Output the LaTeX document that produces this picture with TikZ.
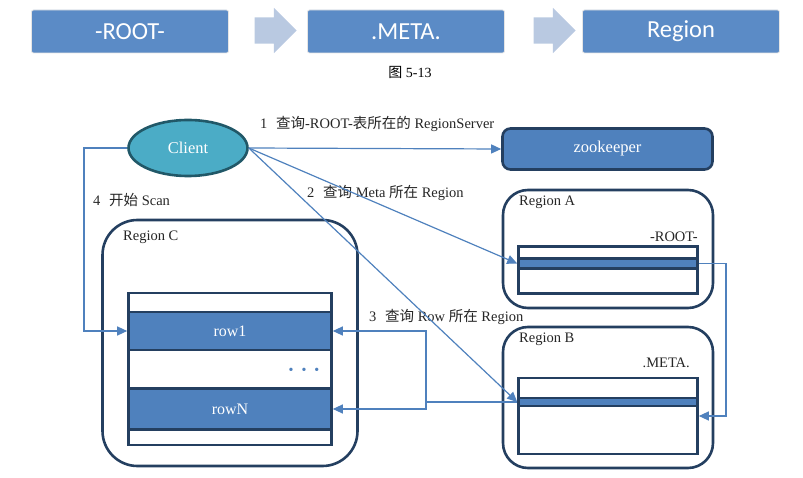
\documentclass[tikz,border=0pt]{standalone}
\usepackage{fontspec}
\setmainfont{Liberation Serif}
\newfontfamily\cjk{Noto Sans CJK SC}
\newfontfamily\calibri{Carlito}
\usetikzlibrary{shapes.geometric,shapes.arrows,arrows.meta}
\definecolor{topblue}{HTML}{5B8BC6}
\definecolor{chevblue}{HTML}{B9C9E1}
\definecolor{midblue}{HTML}{4F81BD}
\definecolor{navy}{HTML}{243F60}
\definecolor{clientfill}{HTML}{4BACC6}
\definecolor{clientedge}{HTML}{215868}
\begin{document}
\begin{tikzpicture}[x=1pt, y=-1pt,
        topbox/.style={rectangle, rounded corners=2, draw=gray!20, line width=0.8, fill=topblue, text=white, font=\calibri\fontsize{24.5}{28}\selectfont, minimum width=197, minimum height=43},
        chevron/.style={single arrow, fill=chevblue, inner xsep=0, inner ysep=13, minimum height=42, single arrow head extend=9.5},
        regionbox/.style={rectangle, draw=navy, line width=2.6, fill=white},
        tablebox/.style={rectangle, draw=navy, line width=2.6, fill=white, inner sep=0},
        band/.style={rectangle, draw=navy, line width=2.6, fill=midblue, inner sep=0, text=white, font=\fontsize{16}{18}\selectfont},
        link/.style={draw=midblue, line width=1.2, -{Triangle[length=10,width=9]}},
        note/.style={anchor=west, inner sep=0, text=black!85, font=\fontsize{14.5}{16}\selectfont}
    ]
        \useasboundingbox (0,0) rectangle (803,478);

        % Top row
        \node (root) [topbox] at (130,31.5) {-ROOT-};
        \node (chev1) [chevron] at (269,30.5) {};
        \node (meta) [topbox] at (406,31.5) {.META.};
        \node (chev2) [chevron] at (548,30.5) {};
        \node (region) [topbox] at (681,31.5) {Region};
        \node (caption) [font=\fontsize{14}{16}\selectfont] at (410,72) {{\cjk 图} 5-13};

        % Nodes
        \node (client) [ellipse, draw=clientedge, line width=2.6, fill=clientfill, text=white, minimum width=119, minimum height=56, font=\fontsize{16.5}{18}\selectfont] at (188,148) {Client};
        \node (zk) [rectangle, rounded corners=8, draw=navy, line width=2.6, fill=midblue, text=white, minimum width=210, minimum height=41, font=\fontsize{16.5}{18}\selectfont] at (607.5,149) {zookeeper};

        \node (regA) [regionbox, rounded corners=25, minimum width=210, minimum height=118] at (608,249) {};
        \node (tabA) [tablebox, minimum width=179, minimum height=47] at (608,270) {};
        \node (bandA) [band, minimum width=179, minimum height=10] at (608,263.5) {};
        \node (labA) [note] at (519,202) {Region A};
        \node (rootA) [note, anchor=east] at (698,237) {-ROOT-};

        \node (regB) [regionbox, rounded corners=25, minimum width=210, minimum height=141] at (608,397.5) {};
        \node (tabB) [tablebox, minimum width=179, minimum height=76] at (608,416) {};
        \node (bandB) [band, minimum width=179, minimum height=8] at (608,402) {};
        \node (labB) [note] at (519,339) {Region B};
        \node (metaB) [note, anchor=east] at (690,363) {.META.};

        \node (regC) [regionbox, rounded corners=35, minimum width=255, minimum height=246] at (230,343) {};
        \node (tabC) [tablebox, minimum width=203, minimum height=152] at (230,369) {};
        \node (row1) [band, minimum width=203, minimum height=38] at (230,331) {row1};
        \node (rowN) [band, minimum width=203, minimum height=41] at (230,409) {rowN};
        \node (dots) [text=midblue, inner sep=0, font=\fontsize{14}{16}\selectfont] at (304,371) {•\hspace{8pt}•\hspace{8pt}•};
        \node (labC) [note] at (123,237) {Region C};

        % Labels
        \node (lbl1) [note] at (260,124) {1\hspace{0.6em}{\cjk 查询}-ROOT-{\cjk 表所在的} RegionServer};
        \node (lbl2) [note] at (307,193) {2\hspace{0.6em}{\cjk 查询} Meta {\cjk 所在} Region};
        \node (lbl3) [note] at (369,317) {3\hspace{0.6em}{\cjk 查询} Row {\cjk 所在} Region};
        \node (lbl4) [note] at (93,200) {4\hspace{0.6em}{\cjk 开始} Scan};

        % Edges
        \coordinate (turn3) at (426,402);
        \coordinate (turn4) at (84,148);
        \coordinate (turn5) at (726,263.5);
        \draw[link] (client.east) -- (zk.west);
        \draw[link] (client.east) -- (bandA.west);
        \draw[link] (client.east) -- (bandB.west);
        \draw[link] (bandB.west) -- (turn3) |- (row1.east);
        \draw[link] (turn3) |- (rowN.east);
        \draw[link] (client.west) -- (turn4) |- (row1.west);
        \draw[link] (bandA.east) -- (turn5) |- (tabB.east);

    \end{tikzpicture}
\end{document}
